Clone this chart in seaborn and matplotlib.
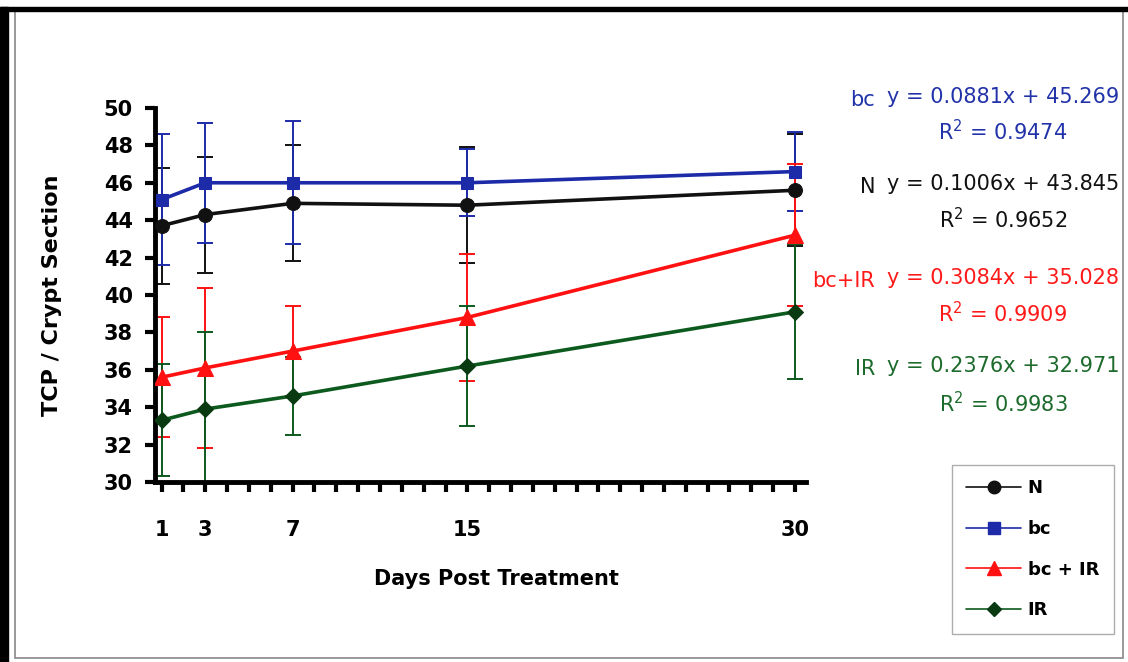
import matplotlib
matplotlib.use("Agg")
import matplotlib.pyplot as plt
from matplotlib.lines import Line2D
from matplotlib.patches import Rectangle
import pandas as pd
import seaborn as sns

days = [1, 3, 7, 15, 30]
groups = ["N", "bc", "bc + IR", "IR"]

n_mean = [43.7, 44.3, 44.9, 44.8, 45.6]
n_err = [3.1, 3.1, 3.1, 3.1, 3.0]
bc_mean = [45.1, 46.0, 46.0, 46.0, 46.6]
bc_err = [3.5, 3.2, 3.3, 1.8, 2.1]
bcir_mean = [35.6, 36.1, 37.0, 38.8, 43.2]
bcir_err = [3.2, 4.3, 2.4, 3.4, 3.8]
ir_mean = [33.3, 33.9, 34.6, 36.2, 39.1]
ir_err = [3.0, 4.1, 2.1, 3.2, 3.6]

fit_labels = ["bc", "N", "bc+IR", "IR"]
fit_eqs = ["y = 0.0881x + 45.269", "y = 0.1006x + 43.845",
           "y = 0.3084x + 35.028", "y = 0.2376x + 32.971"]
fit_r2 = ["0.9474", "0.9652", "0.9909", "0.9983"]

means = {"N": n_mean, "bc": bc_mean, "bc + IR": bcir_mean, "IR": ir_mean}
errs = {"N": n_err, "bc": bc_err, "bc + IR": bcir_err, "IR": ir_err}

df = pd.DataFrame(
    [(d, g, v) for g in groups for d, v in zip(days, means[g])],
    columns=["Day", "Group", "Value"],
)

colors = {"N": "#111111", "bc": "#1d2ba8", "bc + IR": "#ff1111", "IR": "#0c5a1e"}
marker_face = {"N": "#111111", "bc": "#1d2ba8", "bc + IR": "#ff1111", "IR": "#0a3a12"}
markers = {"N": "o", "bc": "s", "bc + IR": "^", "IR": "D"}
msizes = {"N": 10, "bc": 9, "bc + IR": 11, "IR": 8}
text_colors = {"bc": "#2233aa", "N": "#111111", "bc+IR": "#ff1a1a", "IR": "#1d6b2c"}

sns.set_style("white")
plt.rcParams["font.family"] = ["DejaVu Sans"]
plt.rcParams["text.color"] = "black"
plt.rcParams["axes.labelcolor"] = "black"
plt.rcParams["xtick.color"] = "black"
plt.rcParams["ytick.color"] = "black"

fig = plt.figure(figsize=(11.28, 6.62), dpi=100)
ax = fig.add_axes([0.1374, 0.2719, 0.5771, 0.5650])

# error bars first, lines and markers on top
for g in groups:
    ax.errorbar(days, means[g], yerr=errs[g], fmt="none", ecolor=colors[g],
                elinewidth=1.4, capsize=6, capthick=1.4, zorder=2)

for g in groups:
    sub = df[df["Group"] == g]
    sns.lineplot(data=sub, x="Day", y="Value", ax=ax, color=colors[g],
                 linewidth=2.6, marker=markers[g], markersize=msizes[g],
                 markerfacecolor=marker_face[g], markeredgecolor=marker_face[g],
                 legend=False, zorder=3)

ax.set_xlim(0.7, 30.5)
ax.set_ylim(30, 50)
ax.set_yticks(range(30, 51, 2))
ax.set_xticks(days)
ax.set_xticks(range(1, 31), minor=True)
ax.tick_params(axis="both", which="both", direction="out", length=7, width=3,
               color="black", bottom=True, left=True)
ax.tick_params(axis="y", labelsize=15, pad=9)
ax.tick_params(axis="x", labelsize=15, pad=20)
for lab in ax.get_xticklabels() + ax.get_yticklabels():
    lab.set_fontweight("bold")

for side in ["top", "right"]:
    ax.spines[side].set_visible(False)
for side in ["left", "bottom"]:
    ax.spines[side].set_linewidth(3.5)
    ax.spines[side].set_color("black")

ax.set_xlabel("Days Post Treatment", fontsize=15, fontweight="bold")
ax.set_ylabel("TCP / Crypt Section", fontsize=16, fontweight="bold")
ax.xaxis.set_label_coords(0.525, -0.232)
ax.yaxis.set_label_coords(-0.143, 0.5)

# trendline equations on the right
label_y = [97, 184, 278, 366]
r2_y = [132, 220, 314, 404]
for lab, eq, r2, ly, ry in zip(fit_labels, fit_eqs, fit_r2, label_y, r2_y):
    c = text_colors[lab]
    fig.text(875 / 1128, 1 - (ly + 3) / 662, lab, color=c, fontsize=15,
             ha="right", va="center")
    fig.text(887 / 1128, 1 - ly / 662, eq, color=c, fontsize=15,
             ha="left", va="center")
    fig.text(1003 / 1128, 1 - ry / 662, "R$^2$ = " + r2, color=c, fontsize=15,
             ha="center", va="center")

handles = [
    Line2D([], [], color=colors[g], linewidth=1.2, marker=markers[g],
           markersize=msizes[g] - 1, markerfacecolor=marker_face[g],
           markeredgecolor=marker_face[g])
    for g in groups
]
leg = fig.legend(handles, groups, loc="upper left",
                 bbox_to_anchor=(952 / 1128, 1 - 465 / 662),
                 prop={"size": 13, "weight": "bold"}, frameon=True,
                 fancybox=False, edgecolor="#999999", handlelength=3.0,
                 labelspacing=1.25, borderpad=0.8, handletextpad=0.4,
                 borderaxespad=0)
leg.get_frame().set_linewidth(1.0)

# photo frame
fig.add_artist(Rectangle((15 / 1128, 4 / 662), 1108 / 1128, 647 / 662,
                         transform=fig.transFigure, fill=False,
                         edgecolor="#888888", linewidth=1.2))
fig.add_artist(Rectangle((0, 0), 8 / 1128, 1 - 7 / 662,
                         transform=fig.transFigure, color="black"))
fig.add_artist(Rectangle((0, 1 - 11 / 662), 1, 4 / 662,
                         transform=fig.transFigure, color="black"))

fig.savefig("out.png", dpi=100)
